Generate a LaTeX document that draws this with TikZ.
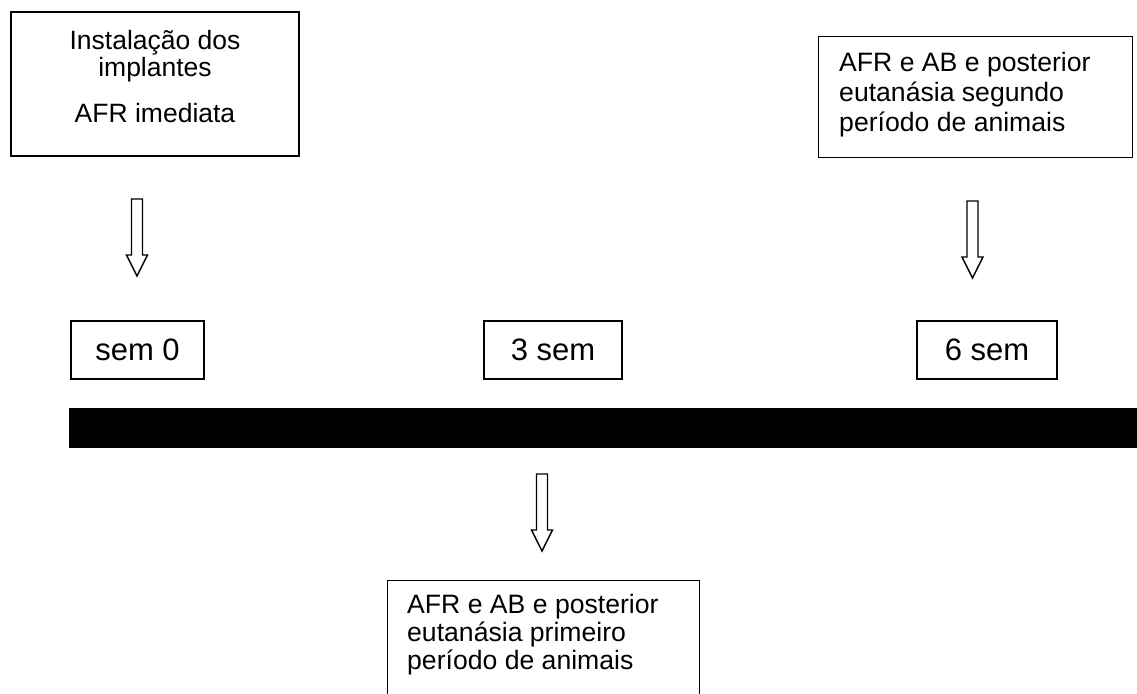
\documentclass[tikz,border=0pt]{standalone}
\usepackage{fontspec}
\setmainfont{Liberation Sans}
\begin{document}
\begin{tikzpicture}[x=1pt,y=-1pt,
  box/.style={draw, line width=1.3pt, inner sep=0pt},
  txt/.style={inner sep=0pt},
  sembox/.style={draw, line width=1.3pt, inner sep=0pt, font=\fontsize{31}{34}\selectfont,
                 minimum height=58pt},
  hollow arrow/.pic={\draw[line width=1.4pt, line join=miter]
      (-5.5,0) -- (-5.5,56) -- (-10.5,56) -- (0,77) -- (10.5,56) -- (5.5,56) -- (5.5,0) -- cycle;}]
\useasboundingbox (0,0) rectangle (1137,693);
\clip (0,0) rectangle (1137,693);

% top left box
\node[box, minimum width=288pt, minimum height=144pt] (install) at (155,84) {};
\node[txt, font=\fontsize{26.5}{27}\selectfont, align=center, anchor=north] (installtxt) at (155,30.5)
  {Instalação dos\\implantes\\[19pt]AFR imediata};

% top right box
\node[box, anchor=north west, minimum width=314pt, minimum height=121pt] (second) at (818,36) {};
\node[txt, font=\fontsize{26.6}{30}\selectfont, align=left, anchor=north west] (secondtxt) at (839,52)
  {AFR e AB e posterior\\eutanásia segundo\\período de animais};

% arrows above timeline
\pic (arrowA) at (137,199) {hollow arrow};
\pic (arrowB) at (972.5,201) {hollow arrow};

% week boxes
\node[sembox, minimum width=133pt] (w0) at (137.5,350) {sem 0};
\node[sembox, minimum width=138pt] (w3) at (553,350) {3 sem};
\node[sembox, minimum width=140pt] (w6) at (987,350) {6 sem};

% timeline bar
\fill[black] (69,408) rectangle (1137,448);

% arrow below timeline
\pic (arrowC) at (542,474) {hollow arrow};

% bottom box (cut by the lower edge)
\node[box, anchor=north west, minimum width=312pt, minimum height=140pt] (first) at (387,580) {};
\node[txt, font=\fontsize{26.6}{28}\selectfont, align=left, anchor=north west] (firsttxt) at (407,594)
  {AFR e AB e posterior\\eutanásia primeiro\\período de animais};
\end{tikzpicture}
\end{document}
